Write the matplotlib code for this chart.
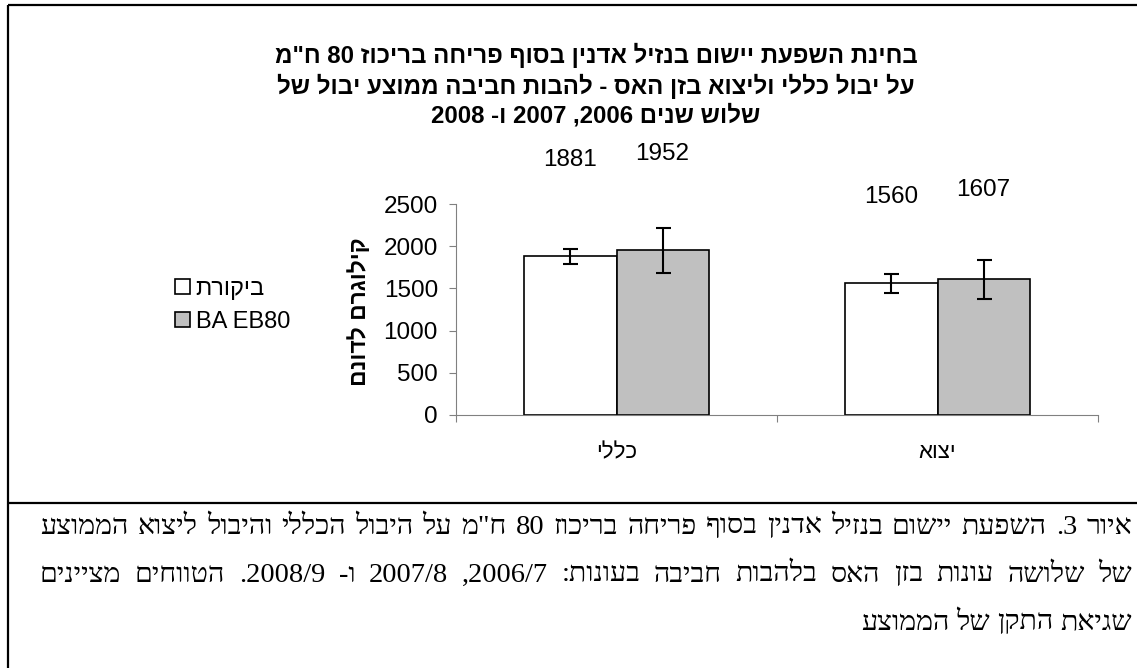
import re
import numpy as np
import matplotlib
matplotlib.use('Agg')
import matplotlib.pyplot as plt
from matplotlib.patches import Patch
from matplotlib.lines import Line2D

plt.rcParams['font.family'] = ['Liberation Sans', 'DejaVu Sans']

# ---- data ----
categories = ['כללי', 'יצוא']
series_names = ['ביקורת', 'BA EB80']
control = [1881, 1560]
ba_eb80 = [1952, 1607]
control_err = [85, 110]
ba_eb80_err = [265, 228]
y_ticks = [0, 500, 1000, 1500, 2000, 2500]

title_lines = [
    'בחינת השפעת יישום בנזיל אדנין בסוף פריחה בריכוז 80 ח"מ',
    'על יבול כללי וליצוא בזן האס - להבות חביבה ממוצע יבול של',
    'שלוש שנים 2006, 2007 ו- 2008',
]
y_label = 'קילוגרם לדונם'
caption_lines = [
    'איור 3. השפעת יישום בנזיל אדנין בסוף פריחה בריכוז 80 ח"מ על היבול הכללי והיבול ליצוא הממוצע',
    'של שלושה עונות בזן האס בלהבות חביבה בעונות: 2006/7, 2007/8 ו- 2008/9. הטווחים מציינים',
    'שגיאת התקן של הממוצע',
]


def heb(s):
    # matplotlib draws left to right, so turn the Hebrew into visual order
    # and put runs of digits / latin back the right way round
    r = s[::-1]
    return re.sub(r'[0-9A-Za-z]+(?:[/.,:][0-9A-Za-z]+)*', lambda m: m.group(0)[::-1], r)


W, H = 1137, 668
fig = plt.figure(figsize=(W / 100, H / 100), dpi=100)


def fx(px):
    return px / W


def fy(py):
    return 1 - py / H


# frame around chart + caption
frame = dict(color='black', linewidth=1.6, transform=fig.transFigure, solid_capstyle='butt')
fig.add_artist(Line2D([fx(8), 1], [fy(5), fy(5)], **frame))
fig.add_artist(Line2D([fx(8), fx(8)], [fy(5), 0], **frame))
fig.add_artist(Line2D([fx(8), 1], [fy(503), fy(503)], **frame))

ax = fig.add_axes([fx(456), fy(414.7), fx(1098) - fx(456), (414.7 - 204.3) / H])

x = np.arange(len(categories))
bw = 0.287
err_style = dict(ecolor='black', elinewidth=1.5, capsize=5.4, capthick=1.5)
ax.bar(x - bw / 2, control, bw, yerr=control_err, color='white',
       edgecolor='black', linewidth=1.2, error_kw=err_style, zorder=2)
ax.bar(x + bw / 2, ba_eb80, bw, yerr=ba_eb80_err, color='#C0C0C0',
       edgecolor='black', linewidth=1.2, error_kw=err_style, zorder=2)

# value labels sit high above the bars, as in the original
lifts = {0: (96, 96), 1: (86, 89)}
for i in range(len(categories)):
    ax.annotate(str(control[i]), (x[i] - bw / 2, control[i]), xytext=(0, lifts[i][0]),
                textcoords='offset pixels', ha='center', va='center', fontsize=17.5)
    ax.annotate(str(ba_eb80[i]), (x[i] + bw / 2, ba_eb80[i]), xytext=(0, lifts[i][1]),
                textcoords='offset pixels', ha='center', va='center', fontsize=17.5)

ax.set_xlim(-0.5, len(categories) - 0.5)
ax.set_ylim(y_ticks[0], y_ticks[-1])
ax.set_yticks(y_ticks)
ax.set_xticks(np.arange(len(categories) + 1) - 0.5)
ax.set_xticklabels([])
ax.set_xticks(x, minor=True)
ax.set_xticklabels([heb(c) for c in categories], minor=True, fontsize=16)
ax.tick_params(axis='x', which='major', length=5, width=0.8, color='#808080', direction='out')
ax.tick_params(axis='x', which='minor', length=0, pad=20)
ax.tick_params(axis='y', length=5, width=0.8, color='#808080', direction='out',
               labelsize=17.5, pad=8)
for side in ['top', 'right']:
    ax.spines[side].set_visible(False)
for side in ['left', 'bottom']:
    ax.spines[side].set_color('#808080')
    ax.spines[side].set_linewidth(0.8)

# title
title_y = [55, 86, 116]
for line, ty in zip(title_lines, title_y):
    fig.text(fx(596), fy(ty), heb(line), ha='center', va='center',
             fontsize=17.3, fontweight='bold')

fig.text(fx(359), fy(312), heb(y_label), rotation=90, ha='center', va='center',
         fontsize=16.5, fontweight='bold')

# legend
handles = [Patch(facecolor='white', edgecolor='black', linewidth=1.2),
           Patch(facecolor='#C0C0C0', edgecolor='black', linewidth=1.2)]
labels = [heb(series_names[0]), series_names[1]]
fig.legend(handles, labels, loc='upper left', bbox_to_anchor=(fx(175), fy(278)),
           frameon=False, fontsize=17, handlelength=0.62, handleheight=0.62,
           handletextpad=0.25, labelspacing=0.45, borderpad=0, borderaxespad=0)

# caption under the chart: justified lines, last line right aligned
cap_font = dict(family=['Liberation Serif', 'DejaVu Serif'], va='center', ha='right')
cap_y = [527, 575, 623]
cap_left, cap_right = 40, 1132
cap_size = 20.5
space = cap_size * 100 / 72 * 0.25
renderer = fig.canvas.get_renderer()
for n, (line, cy) in enumerate(zip(caption_lines, cap_y)):
    words = line.split(' ')
    texts = [fig.text(fx(cap_right), fy(cy), heb(w), fontsize=cap_size, **cap_font) for w in words]
    widths = [t.get_window_extent(renderer).width for t in texts]
    gap = space
    if n < len(caption_lines) - 1:
        gap = max(space, (cap_right - cap_left - sum(widths)) / (len(words) - 1))
    xr = cap_right
    for t, w in zip(texts, widths):
        t.set_x(fx(xr))
        xr -= w + gap

fig.savefig('out.png', dpi=100)
